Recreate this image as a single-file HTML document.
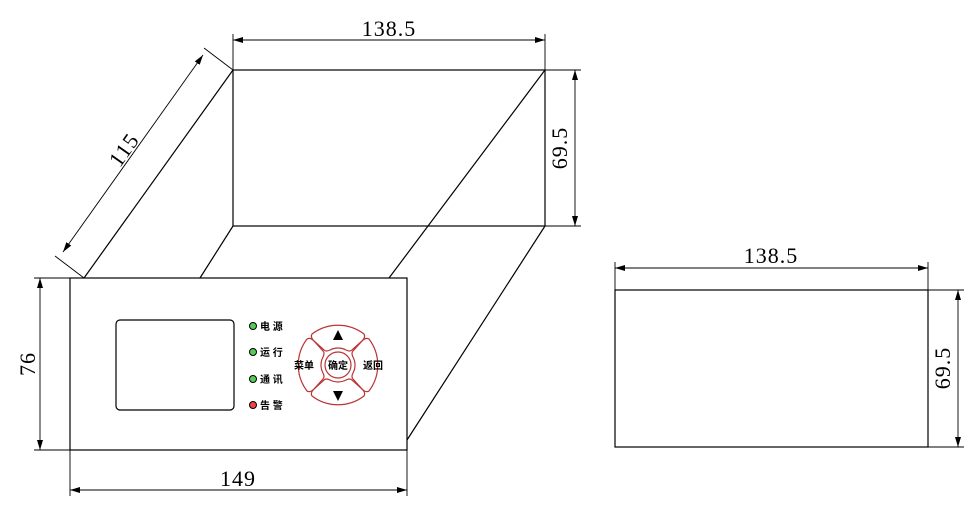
<!DOCTYPE html>
<html><head><meta charset="utf-8"><style>body{margin:0;background:#fff}svg{display:block}</style></head><body>
<svg width="975" height="513" viewBox="0 0 975 513" xmlns="http://www.w3.org/2000/svg">
<defs>
<marker id="a" viewBox="0 0 10 6" refX="10" refY="3" markerWidth="10" markerHeight="6" orient="auto-start-reverse" markerUnits="userSpaceOnUse"><path d="M0,0L10,3L0,6z" fill="#000"/></marker>
</defs>
<g stroke="#000" stroke-width="1.2" fill="none">
<rect x="233" y="70" width="312" height="156"/>
<line x1="84" y1="278" x2="233" y2="70"/>
<line x1="200" y1="278" x2="233" y2="226"/>
<line x1="389" y1="278" x2="545" y2="70"/>
<line x1="407" y1="440" x2="545" y2="226"/>
<rect x="70" y="278" width="337" height="172" fill="#fff"/>
<rect x="116" y="320" width="118" height="90" rx="4"/>
<rect x="615" y="290" width="313" height="157"/>
</g>
<g stroke="#000" stroke-width="0.9" fill="none">
<line x1="233" y1="34" x2="233" y2="70"/><line x1="545" y1="34" x2="545" y2="70"/>
<line x1="233" y1="40" x2="545" y2="40" marker-start="url(#a)" marker-end="url(#a)"/>
<line x1="545" y1="70" x2="581" y2="70"/><line x1="545" y1="226" x2="581" y2="226"/>
<line x1="575" y1="70" x2="575" y2="226" marker-start="url(#a)" marker-end="url(#a)"/>
<line x1="84" y1="278" x2="55" y2="256"/><line x1="233" y1="70" x2="204" y2="48"/>
<line x1="63" y1="252" x2="203" y2="55" marker-start="url(#a)" marker-end="url(#a)"/>
<line x1="34" y1="278" x2="70" y2="278"/><line x1="34" y1="450" x2="70" y2="450"/>
<line x1="40" y1="278" x2="40" y2="450" marker-start="url(#a)" marker-end="url(#a)"/>
<line x1="70" y1="450" x2="70" y2="496"/><line x1="407" y1="450" x2="407" y2="496"/>
<line x1="70" y1="490" x2="407" y2="490" marker-start="url(#a)" marker-end="url(#a)"/>
<line x1="615" y1="262" x2="615" y2="290"/><line x1="928" y1="262" x2="928" y2="290"/>
<line x1="615" y1="268" x2="928" y2="268" marker-start="url(#a)" marker-end="url(#a)"/>
<line x1="928" y1="290" x2="964" y2="290"/><line x1="928" y1="447" x2="964" y2="447"/>
<line x1="958" y1="290" x2="958" y2="447" marker-start="url(#a)" marker-end="url(#a)"/>
</g>
<g font-family="Liberation Serif, serif" font-size="22" fill="#000" text-anchor="middle" letter-spacing="1">
<text x="389" y="36">138.5</text>
<text x="771" y="263">138.5</text>
<text x="238" y="486">149</text>
<text transform="translate(567,148) rotate(-90)">69.5</text>
<text transform="translate(950,368) rotate(-90)">69.5</text>
<text transform="translate(35,364) rotate(-90)">76</text>
<text transform="translate(130,154) rotate(-54.5)">115</text>
</g>
<g stroke="#000" stroke-width="1">
<circle cx="253" cy="326" r="3.5" fill="#5c5"/>
<circle cx="253" cy="352" r="3.5" fill="#5c5"/>
<circle cx="253" cy="379" r="3.5" fill="#5c5"/>
<circle cx="253" cy="405" r="3.5" fill="#e44"/>
</g>
<g font-family="Liberation Sans, Noto Sans CJK SC, sans-serif" font-size="10" font-weight="bold" fill="#000">
<text x="260" y="330">电 源</text>
<text x="260" y="356">运 行</text>
<text x="260" y="383">通 讯</text>
<text x="260" y="409">告 警</text>
</g>
<g stroke="#b33" stroke-width="1.2" fill="none" stroke-linejoin="round">
<circle cx="338" cy="365" r="13"/>
<g transform="translate(338,365)">
<path id="p" d="M-26,-31 A43,43 0 0 1 26,-31 Q28,-28 24,-24 L14,-15 Q12,-13 8,-15 A17,17 0 0 0 -8,-15 Q-12,-13 -14,-15 L-24,-24 Q-28,-28 -26,-31z"/>
<use href="#p" transform="rotate(90)"/>
<use href="#p" transform="rotate(180)"/>
<use href="#p" transform="rotate(270)"/>
</g>
</g>
<path d="M333,340 L343,340 L338,330z" fill="#000"/>
<path d="M333,391 L343,391 L338,401z" fill="#000"/>
<g font-family="Liberation Sans, Noto Sans CJK SC, sans-serif" font-size="10" font-weight="bold" fill="#000" text-anchor="middle">
<text x="338" y="369">确定</text>
<text x="304" y="369">菜单</text>
<text x="373" y="369">返回</text>
</g>
</svg>
</body></html>
